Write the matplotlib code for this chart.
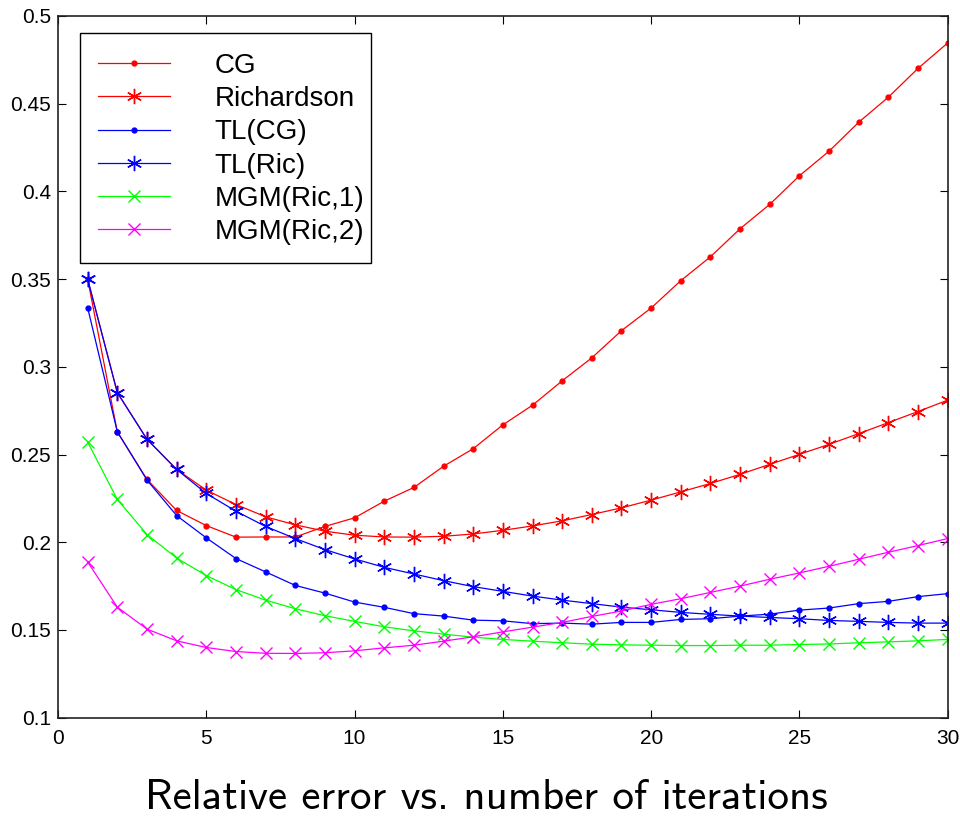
import numpy as np
import matplotlib
matplotlib.use('Agg')
import matplotlib.pyplot as plt
from matplotlib.lines import Line2D
from matplotlib.patches import Rectangle

# relative error per iteration
iters = list(range(1, 31))

cg = [0.3500, 0.2629, 0.2358, 0.2181, 0.2095, 0.2029, 0.2030, 0.2030, 0.2090, 0.2139,
      0.2234, 0.2312, 0.2433, 0.2533, 0.2669, 0.2781, 0.2920, 0.3051, 0.3206, 0.3335,
      0.3491, 0.3627, 0.3787, 0.3926, 0.4089, 0.4229, 0.4394, 0.4537, 0.4701, 0.4846]
richardson = [0.3500, 0.2853, 0.2587, 0.2415, 0.2297, 0.2215, 0.2145, 0.2099, 0.2063, 0.2040,
              0.2030, 0.2029, 0.2034, 0.2047, 0.2068, 0.2093, 0.2122, 0.2158, 0.2196, 0.2240,
              0.2287, 0.2335, 0.2387, 0.2444, 0.2501, 0.2558, 0.2619, 0.2682, 0.2745, 0.2810]
tl_cg = [0.3337, 0.2630, 0.2355, 0.2152, 0.2025, 0.1907, 0.1831, 0.1754, 0.1710, 0.1659,
         0.1629, 0.1593, 0.1579, 0.1556, 0.1552, 0.1536, 0.1539, 0.1533, 0.1543, 0.1543,
         0.1560, 0.1564, 0.1579, 0.1590, 0.1613, 0.1625, 0.1650, 0.1663, 0.1690, 0.1707]
tl_ric = [0.3500, 0.2853, 0.2587, 0.2415, 0.2278, 0.2177, 0.2090, 0.2021, 0.1958, 0.1905,
          0.1857, 0.1819, 0.1781, 0.1747, 0.1720, 0.1693, 0.1670, 0.1650, 0.1630, 0.1615,
          0.1600, 0.1589, 0.1579, 0.1571, 0.1564, 0.1554, 0.1549, 0.1543, 0.1539, 0.1539]
mgm1 = [0.2571, 0.2244, 0.2044, 0.1910, 0.1810, 0.1730, 0.1670, 0.1621, 0.1581, 0.1549,
        0.1518, 0.1495, 0.1476, 0.1459, 0.1446, 0.1436, 0.1427, 0.1419, 0.1415, 0.1413,
        0.1411, 0.1411, 0.1413, 0.1413, 0.1417, 0.1420, 0.1427, 0.1432, 0.1438, 0.1446]
mgm2 = [0.1888, 0.1630, 0.1505, 0.1438, 0.1400, 0.1377, 0.1367, 0.1366, 0.1370, 0.1381,
        0.1398, 0.1413, 0.1436, 0.1461, 0.1489, 0.1516, 0.1543, 0.1577, 0.1608, 0.1646,
        0.1678, 0.1714, 0.1750, 0.1789, 0.1825, 0.1863, 0.1903, 0.1943, 0.1981, 0.2021]

labels = ['CG', 'Richardson', 'TL(CG)', 'TL(Ric)', 'MGM(Ric,1)', 'MGM(Ric,2)']
xticks = [0, 5, 10, 15, 20, 25, 30]
yticks = [0.1, 0.15, 0.2, 0.25, 0.3, 0.35, 0.4, 0.45, 0.5]
ytick_labels = ['0.1', '0.15', '0.2', '0.25', '0.3', '0.35', '0.4', '0.45', '0.5']

plt.rcParams['font.family'] = ['Liberation Sans', 'DejaVu Sans']

W, H = 960, 816
fig = plt.figure(figsize=(W / 100, H / 100), dpi=100)
ax = fig.add_axes([0.0604, 0.1205, 0.9268, 0.860])

red = '#ff0000'
blue = '#0000ff'
green = '#00ff00'
magenta = '#ff00ff'
star = (6, 2, 0)  # matlab-like asterisk

# (values, colour, marker, size)
series = [
    (cg, red, '.', 7),
    (richardson, red, star, 11),
    (tl_cg, blue, '.', 7),
    (tl_ric, blue, star, 11),
    (mgm1, green, 'x', 8),
    (mgm2, magenta, 'x', 8),
]

handles = []
for vals, col, mk, sz in series:
    ax.plot(iters, vals, color=col, lw=0.9, marker=mk, ms=sz, mew=1.0)
    handles.append(Line2D([], [], color=col, lw=0.9, marker=mk, ms=sz, mew=1.0))

ax.set_xlim(0, 30)
ax.set_ylim(0.1, 0.5)
ax.set_xticks(xticks)
ax.set_yticks(yticks)
ax.set_yticklabels(ytick_labels)
ax.tick_params(direction='in', top=True, right=True, length=6, width=0.8,
               labelsize=15)
ax.tick_params(axis='x', pad=8)
ax.tick_params(axis='y', pad=5)
for sp in ax.spines.values():
    sp.set_linewidth(1.2)
    sp.set_color('#222222')

# legend entries without their own frame, box drawn separately
leg = ax.legend(handles, labels, loc='upper left',
                bbox_to_anchor=(98 / W, 1 - 53 / H), bbox_transform=fig.transFigure,
                borderaxespad=0, borderpad=0, fontsize=20, handlelength=2.6,
                handletextpad=1.6, labelspacing=0.26, frameon=False, numpoints=1)
ax.add_artist(Rectangle((80 / W, 1 - 263 / H), (371 - 80) / W, (263 - 33) / H,
                        transform=fig.transFigure, fill=True, facecolor='white',
                        edgecolor='black', lw=1.0, zorder=4.9))
leg.set_zorder(5)

fig.text(486 / W, 7 / H, 'Relative error vs. number of iterations',
         ha='center', va='baseline', fontsize=31, family='cmss10')

fig.savefig('out.png', dpi=100)
